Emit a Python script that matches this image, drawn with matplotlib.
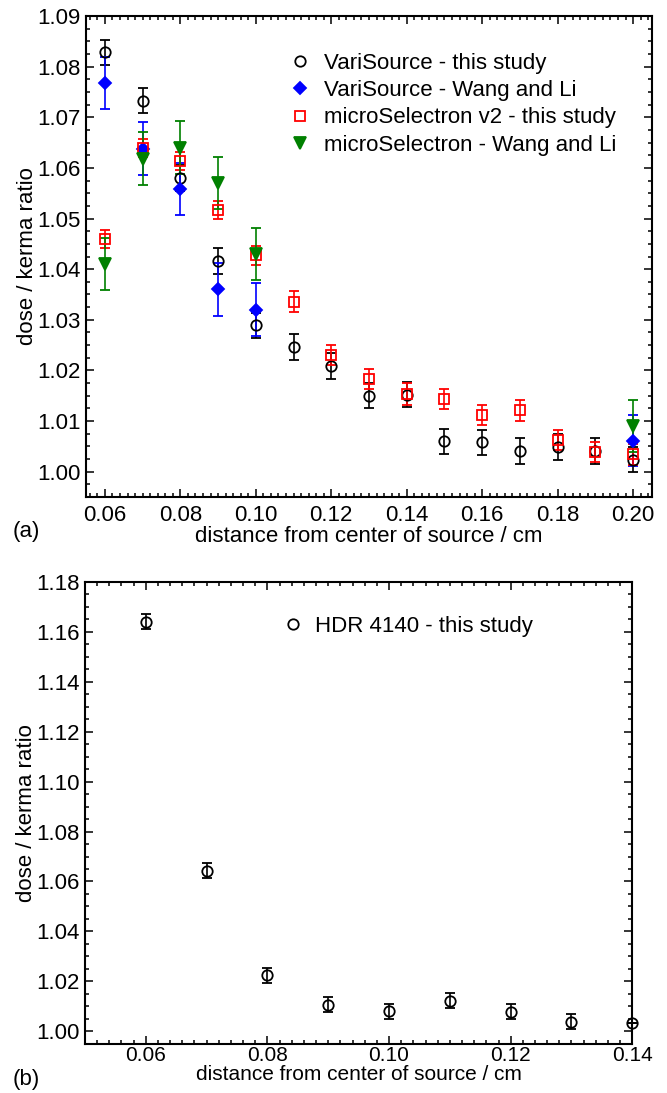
import numpy as np
from matplotlib import pyplot as plt
from matplotlib.ticker import MultipleLocator, FormatStrFormatter

plt.rcParams['font.family'] = ['Liberation Sans', 'DejaVu Sans']

# ---- panel (a) data ----
vs_x = [0.06, 0.07, 0.08, 0.09, 0.10, 0.11, 0.12, 0.13, 0.14, 0.15, 0.16, 0.17, 0.18, 0.19, 0.20]
vs_y = [1.0828, 1.0733, 1.0580, 1.0416, 1.0289, 1.0246, 1.0209, 1.0150, 1.0152, 1.0060, 1.0058,
        1.0041, 1.0049, 1.0041, 1.0024]
vs_err = [0.0025] * len(vs_x)

vs_wl_x = [0.06, 0.07, 0.08, 0.09, 0.10, 0.20]
vs_wl_y = [1.0768, 1.0638, 1.0558, 1.0360, 1.0320, 1.0061]
vs_wl_err = [0.0052, 0.0052, 0.0052, 0.0052, 0.0052, 0.0050]

ms_x = [0.06, 0.07, 0.08, 0.09, 0.10, 0.11, 0.12, 0.13, 0.14, 0.15, 0.16, 0.17, 0.18, 0.19, 0.20]
ms_y = [1.0459, 1.0639, 1.0614, 1.0517, 1.0427, 1.0336, 1.0230, 1.0183, 1.0154, 1.0144, 1.0112,
        1.0121, 1.0062, 1.0039, 1.0034]
ms_err = [0.0018, 0.0018, 0.0018, 0.0018, 0.0018, 0.0020, 0.0020, 0.0020, 0.0022, 0.0020, 0.0020,
          0.0020, 0.0020, 0.0020, 0.0020]

ms_wl_x = [0.06, 0.07, 0.08, 0.09, 0.10, 0.20]
ms_wl_y = [1.0410, 1.0618, 1.0640, 1.0570, 1.0430, 1.0090]
ms_wl_err = [0.0052] * len(ms_wl_x)

# ---- panel (b) data ----
hdr_x = [0.06, 0.07, 0.08, 0.09, 0.10, 0.11, 0.12, 0.13, 0.14]
hdr_y = [1.1641, 1.0643, 1.0225, 1.0106, 1.0080, 1.0122, 1.0078, 1.0038, 1.0033]
hdr_err = [0.0030, 0.0030, 0.0030, 0.0030, 0.0030, 0.0030, 0.0030, 0.0030, 0.0]

W, H = 667, 1093
FS = 16
fig = plt.figure(figsize=(W / 100, H / 100), dpi=100)


def style_axes(ax, xpad=6, xlabelpad=0, xfs=FS):
    ax.tick_params(which='both', direction='in', top=True, right=True, labelsize=FS, width=1.1)
    ax.tick_params(which='major', length=6, pad=4)
    ax.tick_params(which='minor', length=3)
    ax.tick_params(axis='x', which='major', pad=xpad, labelsize=xfs)
    for s in ax.spines.values():
        s.set_linewidth(1.5)
    ax.xaxis.set_major_formatter(FormatStrFormatter('%.2f'))
    ax.yaxis.set_major_formatter(FormatStrFormatter('%.2f'))
    ax.set_xlabel('distance from center of source / cm', fontsize=xfs, labelpad=xlabelpad)
    ax.set_ylabel('dose / kerma ratio', fontsize=FS, labelpad=-1)


eb = dict(linestyle='none', capsize=3.5, elinewidth=1.2, capthick=1.2, mew=1.3)

# panel (a)
ax1 = fig.add_axes([86 / W, 1 - 497 / H, 566 / W, 481 / H])
ax1.errorbar(vs_x, vs_y, yerr=vs_err, fmt='o', color='black', mfc='none', ms=7.5,
             label='VariSource - this study', **eb)
ax1.errorbar(vs_wl_x, vs_wl_y, yerr=vs_wl_err, fmt='D', color='blue', ms=6.5,
             label='VariSource - Wang and Li', **eb)
ax1.errorbar(ms_x, ms_y, yerr=ms_err, fmt='s', color='red', mfc='none', ms=7,
             label='microSelectron v2 - this study', **eb)
ax1.errorbar(ms_wl_x, ms_wl_y, yerr=ms_wl_err, fmt='v', color='green', ms=8.5,
             label='microSelectron - Wang and Li', **eb)
ax1.set_xlim(0.055, 0.205)
ax1.set_ylim(0.995, 1.09)
ax1.xaxis.set_major_locator(MultipleLocator(0.02))
ax1.xaxis.set_minor_locator(MultipleLocator(0.002))
ax1.yaxis.set_major_locator(MultipleLocator(0.01))
ax1.yaxis.set_minor_locator(MultipleLocator(0.0025))
style_axes(ax1)
h, l = ax1.get_legend_handles_labels()
h = [x[0] for x in h]
ax1.legend(h, l, loc='upper left', bbox_to_anchor=(0.359, 0.923), frameon=False, fontsize=FS,
           handlelength=1.0, handletextpad=0.55, labelspacing=0.28, borderaxespad=0, borderpad=0)

# panel (b)
ax2 = fig.add_axes([85 / W, 1 - 1043.7 / H, 547.3 / W, 461.7 / H])
ax2.errorbar(hdr_x, hdr_y, yerr=hdr_err, fmt='o', color='black', mfc='none', ms=7.5,
             label='HDR 4140 - this study', clip_on=False, **eb)
ax2.set_xlim(0.05, 0.14)
ax2.set_ylim(0.995, 1.18)
ax2.xaxis.set_major_locator(MultipleLocator(0.02))
ax2.xaxis.set_minor_locator(MultipleLocator(0.002))
ax2.yaxis.set_major_locator(MultipleLocator(0.02))
ax2.yaxis.set_minor_locator(MultipleLocator(0.005))
style_axes(ax2, xpad=2, xlabelpad=0, xfs=15)
h, l = ax2.get_legend_handles_labels()
h = [x[0] for x in h]
ax2.legend(h, l, loc='upper left', bbox_to_anchor=(0.359, 0.927), frameon=False, fontsize=FS,
           handlelength=1.0, handletextpad=0.5, borderaxespad=0, borderpad=0)

fig.text(13 / W, 1 - 532 / H, '(a)', fontsize=FS, va='center')
fig.text(13 / W, 1 - 1080 / H, '(b)', fontsize=FS, va='center')

fig.savefig('out.png', dpi=100)
